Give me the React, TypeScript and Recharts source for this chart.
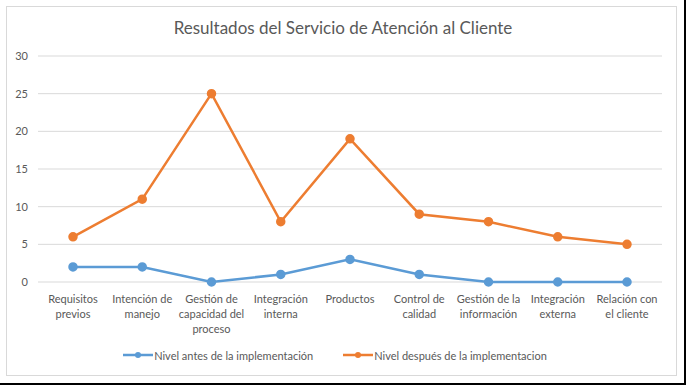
import React from 'react';
import {
  LineChart,
  Line,
  XAxis,
  YAxis,
  CartesianGrid,
  Legend,
} from 'recharts';

// Datos
const categories = [
  'Requisitos\nprevios',
  'Intención de\nmanejo',
  'Gestión de\ncapacidad del\nproceso',
  'Integración\ninterna',
  'Productos',
  'Control de\ncalidad',
  'Gestión de la\ninformación',
  'Integración\nexterna',
  'Relación con\nel cliente',
];
const nivelAntes = [2, 2, 0, 1, 3, 1, 0, 0, 0];
const nivelDespues = [6, 11, 25, 8, 19, 9, 8, 6, 5];
const yTicks = [0, 5, 10, 15, 20, 25, 30];

const seriesNames = {
  antes: 'Nivel antes de la implementación',
  despues: 'Nivel después de la implementacion',
};

const data = categories.map((name, i) => ({
  name,
  antes: nivelAntes[i],
  despues: nivelDespues[i],
}));

const FONT = 'Lato, "Liberation Sans", sans-serif';
const TEXT = '#595959';
const BLUE = '#5B9BD5';
const ORANGE = '#ED7D31';

// Etiquetas del eje X en varias líneas
const CategoryTick = ({ x, y, payload }: any) => {
  const lines = String(payload.value).split('\n');
  return (
    <text x={x} y={y + 13} textAnchor="middle" fill={TEXT} fontSize={11} fontFamily={FONT}>
      {lines.map((line, i) => (
        <tspan key={i} x={x} dy={i === 0 ? 0 : 15}>
          {line}
        </tspan>
      ))}
    </text>
  );
};

const LegendIcon = ({ color }: { color: string }) => (
  <svg width={30} height={10} style={{ display: 'block' }}>
    <line x1={0} y1={5} x2={30} y2={5} stroke={color} strokeWidth={2.5} />
    <circle cx={15} cy={5} r={3} fill={color} />
  </svg>
);

const CustomLegend = () => (
  <div
    style={{
      display: 'flex',
      justifyContent: 'center',
      alignItems: 'center',
      height: 20,
      fontFamily: FONT,
      fontSize: 11,
      color: TEXT,
    }}
  >
    <div style={{ display: 'flex', alignItems: 'center', marginRight: 30 }}>
      <LegendIcon color={BLUE} />
      <span style={{ marginLeft: 1 }}>{seriesNames.antes}</span>
    </div>
    <div style={{ display: 'flex', alignItems: 'center' }}>
      <LegendIcon color={ORANGE} />
      <span style={{ marginLeft: 1 }}>{seriesNames.despues}</span>
    </div>
  </div>
);

export default function App() {
  return (
    <div
      style={{
        position: 'absolute',
        left: 0,
        top: 0,
        width: 686,
        height: 385,
        background: '#fff',
        boxSizing: 'border-box',
        borderRight: '2px solid #000',
        borderBottom: '2px solid #000',
      }}
    >
      <div
        style={{
          position: 'absolute',
          left: 6,
          top: 6,
          width: 671,
          height: 370,
          boxSizing: 'border-box',
          border: '1px solid #D9D9D9',
        }}
      />
      <div
        style={{
          position: 'absolute',
          left: 0,
          top: 18,
          width: 686,
          textAlign: 'center',
          fontFamily: FONT,
          fontSize: 17,
          color: TEXT,
          lineHeight: '20px',
        }}
      >
        Resultados del Servicio de Atención al Cliente
      </div>
      <div style={{ position: 'absolute', left: 0, top: 0 }}>
        <LineChart
          width={686}
          height={385}
          data={data}
          margin={{ top: 56, right: 24, left: 8, bottom: 20 }}
        >
          <CartesianGrid vertical={false} stroke="#D9D9D9" />
          <XAxis
            dataKey="name"
            axisLine={false}
            tickLine={false}
            height={63}
            interval={0}
            padding={{ left: 35, right: 35 }}
            tick={<CategoryTick />}
          />
          <YAxis
            domain={[0, 30]}
            ticks={yTicks}
            width={30}
            axisLine={false}
            tickLine={false}
            tickMargin={4}
            tick={{ fill: TEXT, fontSize: 11, fontFamily: FONT }}
          />
          <Legend verticalAlign="bottom" content={<CustomLegend />} />
          <Line
            type="linear"
            dataKey="antes"
            name={seriesNames.antes}
            stroke={BLUE}
            strokeWidth={2.5}
            dot={{ r: 3.5, fill: BLUE, stroke: BLUE }}
            isAnimationActive={false}
          />
          <Line
            type="linear"
            dataKey="despues"
            name={seriesNames.despues}
            stroke={ORANGE}
            strokeWidth={2.5}
            dot={{ r: 3.5, fill: ORANGE, stroke: ORANGE }}
            isAnimationActive={false}
          />
        </LineChart>
      </div>
    </div>
  );
}
